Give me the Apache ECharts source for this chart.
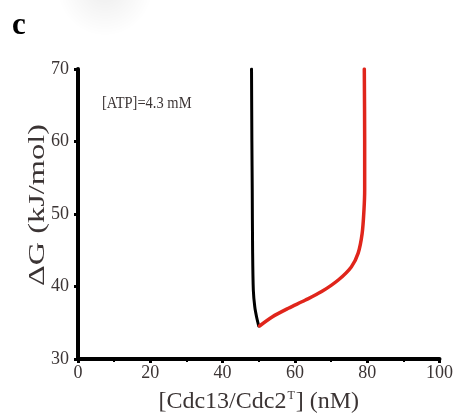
<!DOCTYPE html>
<html>
<head>
<meta charset="utf-8">
<script src="https://cdn.jsdelivr.net/npm/echarts@6/dist/echarts.min.js"></script>
<style>
  html, body { margin: 0; padding: 0; background: #fff; }
  #chart { width: 456px; height: 420px; }
</style>
</head>
<body>
<div id="chart"></div>
<script>
  // points: [Cdc13/Cdc2T] (nM), dG (kJ/mol)
  var blackX = [48.0, 48.1, 48.2, 48.3, 48.5, 48.9, 49.4, 50.0];
  var blackY = [70, 60, 53.3, 45, 39.5, 37.2, 35.8, 34.55];
  var redX = [50.2, 53.7, 58.2, 62.8, 67.4, 72.0, 75.6, 77.5, 78.6, 79.1, 79.3, 79.3, 79.2];
  var redY = [34.55, 35.8, 37.0, 38.1, 39.3, 40.9, 42.7, 44.6, 47.3, 50.5, 53.3, 60, 70];
  var xTicks = [0, 20, 40, 60, 80, 100];
  var yTicks = [30, 40, 50, 60, 70];

  function pairs(xs, ys) {
    return xs.map(function (x, i) { return [x, ys[i]]; });
  }

  var chart = echarts.init(document.getElementById('chart'));
  var serif = '"Liberation Serif", "DejaVu Serif", serif';
  var txt = '#3b3434';

  chart.setOption({
    animation: false,
    grid: { left: 78, right: 14, top: 69, bottom: 61 },
    xAxis: {
      type: 'value',
      min: xTicks[0],
      max: xTicks[xTicks.length - 1],
      interval: 20,
      name: '{a|[Cdc13/Cdc2}{s|T}{a|] (nM)}',
      nameLocation: 'middle',
      nameGap: 31,
      nameTextStyle: {
        rich: {
          a: { fontFamily: serif, fontSize: 24, color: txt },
          s: { fontFamily: serif, fontSize: 12, color: txt, verticalAlign: 'top', padding: [0, 1, 0, 1] }
        }
      },
      axisLine: { lineStyle: { color: '#000', width: 4 } },
      axisTick: { show: true, length: 4, lineStyle: { color: '#000', width: 3 } },
      minorTick: { show: true, splitNumber: 2, length: 3, lineStyle: { color: '#000', width: 2 } },
      axisLabel: { fontFamily: serif, fontSize: 18, color: txt, margin: 5 },
      splitLine: { show: false }
    },
    yAxis: {
      type: 'value',
      min: yTicks[0],
      max: yTicks[yTicks.length - 1],
      interval: 10,
      axisLine: { show: true, lineStyle: { color: '#000', width: 4 } },
      axisTick: { show: true, length: 4, lineStyle: { color: '#000', width: 3 } },
      axisLabel: { fontFamily: serif, fontSize: 18, color: txt, margin: 9 },
      splitLine: { show: false }
    },
    series: [
      {
        type: 'line',
        data: pairs(blackX, blackY),
        smooth: 0.3,
        showSymbol: false,
        lineStyle: { color: '#000', width: 3, cap: 'round' }
      },
      {
        type: 'line',
        data: pairs(redX, redY),
        smooth: 0.3,
        showSymbol: false,
        lineStyle: { color: '#e0251b', width: 3.5, cap: 'round' }
      }
    ],
    graphic: [
      {
        type: 'circle',
        shape: { cx: 105, cy: -12, r: 48 },
        style: {
          fill: new echarts.graphic.RadialGradient(0.5, 0.5, 0.5, [
            { offset: 0, color: 'rgba(0,0,0,0.07)' },
            { offset: 1, color: 'rgba(0,0,0,0)' }
          ])
        },
        silent: true
      },
      {
        type: 'text',
        x: 12,
        y: 10,
        style: { text: 'c', font: 'bold 31px ' + serif, fill: '#000' }
      },
      {
        type: 'text',
        x: 38,
        y: 205,
        rotation: Math.PI / 2,
        scaleX: 1.35,
        style: {
          text: 'ΔG (kJ/mol)',
          font: '24px ' + serif,
          fill: txt,
          align: 'center',
          verticalAlign: 'middle'
        }
      },
      {
        type: 'text',
        x: 102,
        y: 103,
        scaleY: 1.2,
        style: {
          text: '[ATP]=4.3 mM',
          font: '14.5px ' + serif,
          fill: txt,
          verticalAlign: 'middle'
        }
      }
    ]
  });
</script>
</body>
</html>
